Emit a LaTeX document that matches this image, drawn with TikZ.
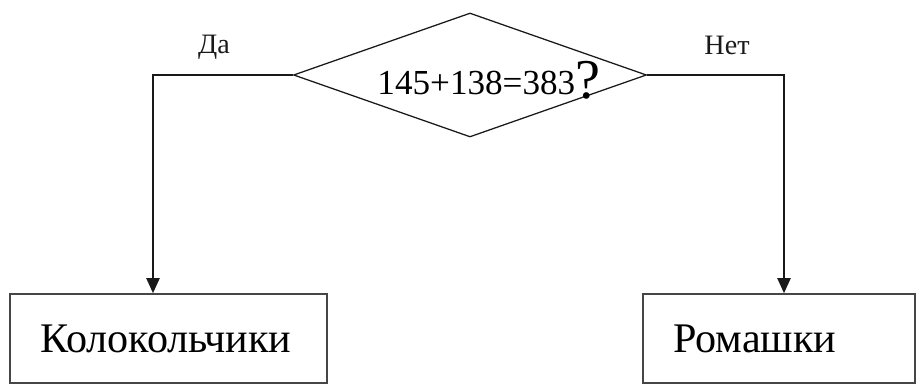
\documentclass[tikz,border=0pt]{standalone}
\usepackage{fontspec}
\setmainfont{Liberation Serif}
\usetikzlibrary{arrows.meta,positioning,shapes.geometric}
\definecolor{Linea}{RGB}{25,25,25}
\definecolor{Borde}{RGB}{70,70,70}

\begin{document}
\begin{tikzpicture}[
    flecha/.style={-{Triangle[width=0.33cm,length=0.38cm]}, line width=1.4pt, Linea},
    caja/.style={draw=Borde, line width=1.1pt, minimum height=2.225cm, inner xsep=0.75cm, align=left, font=\fontsize{30}{30}\selectfont},
    etiqueta/.style={font=\fontsize{20}{20}\selectfont, text=Linea}
  ]
  \useasboundingbox (0,0) rectangle (22.925,-9.625);
  \node[diamond, aspect=2.85, draw=Linea, line width=0.9pt, minimum width=8.825cm, minimum height=3.1cm, inner sep=0pt] (pregunta) at (11.75,-1.875) {};
  \node[font=\fontsize{25}{25}\selectfont, inner sep=0pt, right=0pt of pregunta.center, xshift=-2.32cm, yshift=-0.12cm] (suma)
    {145+138=383\raisebox{-0.1cm}{\fontsize{40}{40}\selectfont ?}};

  \node[caja, text width=6.425cm] (kolok) at (4.2125,-8.4625) {Колокольчики};
  \node[caja, text width=5.3cm] (romash) at (19.475,-8.4625) {Ромашки};

  \coordinate (codoSi) at (3.825,-1.875);
  \coordinate (codoNo) at (19.6,-1.875);

  \draw[flecha] (pregunta.west) -- (codoSi) -- (codoSi |- kolok.north);
  \draw[flecha] (pregunta.east) -- (codoNo) -- (codoNo |- romash.north);

  \node[etiqueta] (da) at (5.35,-1.175) {Да};
  \node[etiqueta] (net) at (18.175,-1.125) {Нет};
\end{tikzpicture}
\end{document}
